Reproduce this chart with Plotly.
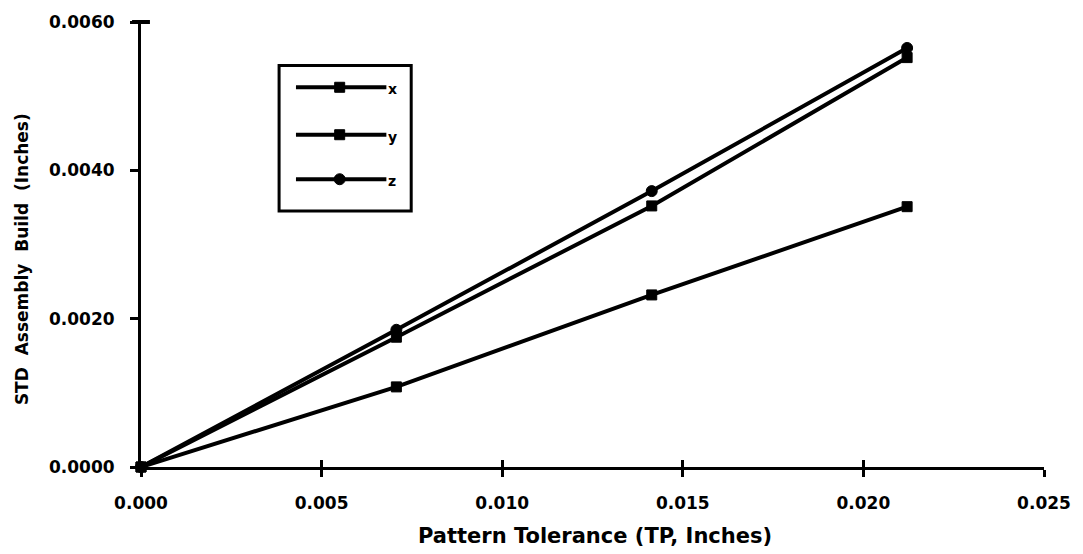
import plotly.graph_objects as go

# Data
tp = [0.0, 0.00707, 0.01414, 0.02121]
std_x = [0.0, 0.00108, 0.00232, 0.00351]
std_y = [0.0, 0.00175, 0.00352, 0.00552]
std_z = [0.0, 0.00185, 0.00372, 0.00565]
series_names = ["x", "y", "z"]
x_ticks = [0.0, 0.005, 0.010, 0.015, 0.020, 0.025]
y_ticks = [0.0, 0.002, 0.004, 0.006]
x_title = "Pattern Tolerance (TP, Inches)"
y_title = "STD  Assembly  Build  (Inches)"

W, H = 1083, 554
L, R, T, B = 141, 33, 17, 87
PW, PH = W - L - R, H - T - B

FONT = "DejaVu Sans, Liberation Sans, Arial, sans-serif"

fig = go.Figure()
styles = [
    dict(symbol="square", size=10),
    dict(symbol="square", size=10),
    dict(symbol="circle", size=11),
]
for name, ys, st in zip(series_names, [std_x, std_y, std_z], styles):
    fig.add_trace(go.Scatter(
        x=tp, y=ys, mode="lines+markers", name=name,
        line=dict(color="black", width=4),
        marker=dict(color="black", symbol=st["symbol"], size=st["size"],
                    line=dict(color="black", width=1)),
        showlegend=False, cliponaxis=False,
    ))

# Second x axis to make x ticks cross the axis line
fig.add_trace(go.Scatter(x=[0], y=[0], xaxis="x2", mode="markers",
                         marker=dict(opacity=0), showlegend=False, hoverinfo="skip"))


def px(xp):
    return (xp - L) / PW


def py(yp):
    return (T + PH - yp) / PH


shapes = []
# legend box
shapes.append(dict(type="rect", xref="paper", yref="paper",
                   x0=px(280), x1=px(413), y0=py(61), y1=py(208),
                   line=dict(color="black", width=3), fillcolor="white", layer="above"))
rows = [83, 131, 176]
for name, ry, st in zip(series_names, rows, styles):
    shapes.append(dict(type="line", xref="paper", yref="paper",
                       x0=px(297), x1=px(388), y0=py(ry), y1=py(ry),
                       line=dict(color="black", width=4), layer="above"))
    s = 10 if st["symbol"] == "square" else 11
    shapes.append(dict(type="rect" if st["symbol"] == "square" else "circle",
                       xref="paper", yref="paper", xsizemode="pixel", ysizemode="pixel",
                       xanchor=px(341), yanchor=py(ry),
                       x0=-s / 2, x1=s / 2, y0=-s / 2, y1=s / 2,
                       line=dict(color="black", width=1), fillcolor="black", layer="above"))
    fig.add_annotation(xref="paper", yref="paper", x=px(388), y=py(ry + 2),
                       text="<b>%s</b>" % name, showarrow=False, xanchor="left",
                       yanchor="middle", font=dict(family=FONT, size=14, color="black"))

# "T" cap at top of y axis
shapes.append(dict(type="line", xref="paper", yref="paper",
                   x0=px(L - 9), x1=px(L + 9), y0=1, y1=1, line=dict(color="black", width=4)))

# axis titles
fig.add_annotation(xref="paper", yref="paper", x=px(598), y=py(537),
                   text="<b>%s</b>" % x_title, showarrow=False,
                   xanchor="center", yanchor="middle",
                   font=dict(family=FONT, size=21, color="black"))
fig.add_annotation(xref="paper", yref="paper", x=px(22), y=py(257),
                   text="<b>%s</b>" % y_title, showarrow=False, textangle=-90,
                   xanchor="center", yanchor="middle",
                   font=dict(family=FONT, size=17, color="black"))

fig.update_layout(
    width=W, height=H,
    margin=dict(l=L, r=R, t=T, b=B),
    paper_bgcolor="white", plot_bgcolor="white",
    font=dict(family=FONT, size=17, color="black"),
    shapes=shapes,
    xaxis=dict(
        range=[0, 0.025], tickvals=x_ticks, tickformat=".3f",
        showgrid=False, zeroline=False,
        showline=True, linecolor="black", linewidth=3,
        ticks="outside", ticklen=7, tickwidth=3, tickcolor="black",
        ticklabelstandoff=12,
        tickfont=dict(family=FONT, size=17, weight="bold"),
    ),
    xaxis2=dict(
        range=[0, 0.025], tickvals=x_ticks, overlaying="x", anchor="y", side="bottom",
        showgrid=False, zeroline=False, showline=False, showticklabels=False,
        ticks="inside", ticklen=7, tickwidth=3, tickcolor="black",
    ),
    yaxis=dict(
        range=[0, 0.006], tickvals=y_ticks, tickformat=".4f",
        showgrid=False, zeroline=False,
        showline=True, linecolor="black", linewidth=3,
        ticks="outside", ticklen=8, tickwidth=3, tickcolor="black",
        ticklabelstandoff=12,
        tickfont=dict(family=FONT, size=17, weight="bold"),
    ),
)

fig.write_html("out.html", config={"displayModeBar": False},
               post_script="document.body.style.margin='0';")
